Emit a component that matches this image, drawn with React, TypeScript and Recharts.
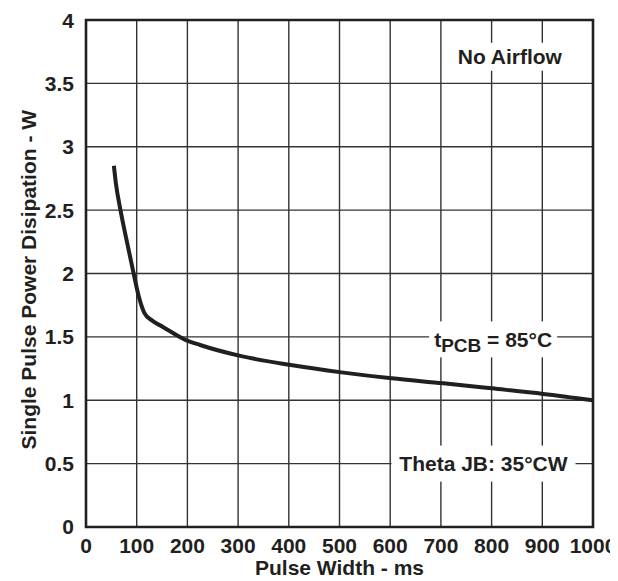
import React from "react";
import { LineChart, Line, XAxis, YAxis, CartesianGrid, ReferenceArea, ReferenceDot } from "recharts";

const pulseWidth = [55, 59, 68, 77, 94, 104, 115, 130, 151, 197, 225, 304, 404, 504, 603, 705, 800, 902, 1000];
const power = [2.85, 2.71, 2.5, 2.32, 2.0, 1.82, 1.69, 1.63, 1.58, 1.475, 1.436, 1.35, 1.278, 1.22, 1.173, 1.134, 1.094, 1.05, 1.0];
const xTicks = [0, 100, 200, 300, 400, 500, 600, 700, 800, 900, 1000];
const yTicks = [0, 0.5, 1, 1.5, 2, 2.5, 3, 3.5, 4];

const data = pulseWidth.map((x, i) => ({ x, y: power[i] }));

const INK = "#231f20";
const FONT = "'Liberation Sans', Arial, sans-serif";
const FS = 21;

const BoxLabel = (props: any) => {
  const { viewBox, w, h, children } = props;
  const cx = viewBox.x + (viewBox.width || 0) / 2;
  const cy = viewBox.y + (viewBox.height || 0) / 2;
  return (
    <g>
      <rect x={cx - w / 2} y={cy - h / 2} width={w} height={h} fill="#fff" />
      <text x={cx} y={cy} textAnchor="middle" dominantBaseline="central" fontFamily={FONT} fontWeight="bold" fontSize={FS} fill={INK}>
        {children}
      </text>
    </g>
  );
};

export default function App() {
  return (
    <LineChart width={610} height={573} data={data} margin={{ top: 12, right: 25, bottom: 0, left: 0 }}>
      <CartesianGrid stroke="#333" strokeWidth={1.4} horizontalValues={yTicks} verticalValues={xTicks} />
      <XAxis
        dataKey="x"
        type="number"
        domain={[0, 1000]}
        ticks={xTicks}
        height={54}
        tickLine={false}
        tickMargin={5}
        axisLine={false}
        tick={{ fontSize: FS, fontWeight: "bold", fill: INK, fontFamily: FONT }}
        label={{ value: "Pulse Width - ms", position: "insideBottom", offset: 6, fontSize: FS, fontWeight: "bold", fill: INK, fontFamily: FONT }}
      />
      <YAxis
        type="number"
        domain={[0, 4]}
        ticks={yTicks}
        width={78}
        tickLine={false}
        tickMargin={6}
        axisLine={false}
        tick={{ fontSize: FS, fontWeight: "bold", fill: INK, fontFamily: FONT }}
        label={{ value: "Single Pulse Power Disipation - W", angle: -90, position: "insideLeft", offset: 21, dy: 176, fontSize: FS, fontWeight: "bold", fill: INK, fontFamily: FONT }}
      />
      <Line dataKey="y" type="monotone" stroke={INK} strokeWidth={4} dot={false} isAnimationActive={false} />
      <ReferenceArea x1={0} x2={1000} y1={0} y2={4} fill="none" stroke={INK} strokeWidth={2.6} ifOverflow="visible" />
      <ReferenceDot x={836} y={3.71} r={0} ifOverflow="visible" label={(p: any) => <BoxLabel {...p} w={114} h={28}>No Airflow</BoxLabel>} />
      <ReferenceDot
        x={803}
        y={1.48}
        r={0}
        ifOverflow="visible"
        label={(p: any) => (
          <BoxLabel {...p} w={128} h={36}>
            <tspan>t</tspan>
            <tspan dy={6} fontSize={19}>PCB</tspan>
            <tspan dy={-6}> = 85°C</tspan>
          </BoxLabel>
        )}
      />
      <ReferenceDot x={784} y={0.5} r={0} ifOverflow="visible" label={(p: any) => <BoxLabel {...p} w={184} h={36}>Theta JB: 35°CW</BoxLabel>} />
    </LineChart>
  );
}
